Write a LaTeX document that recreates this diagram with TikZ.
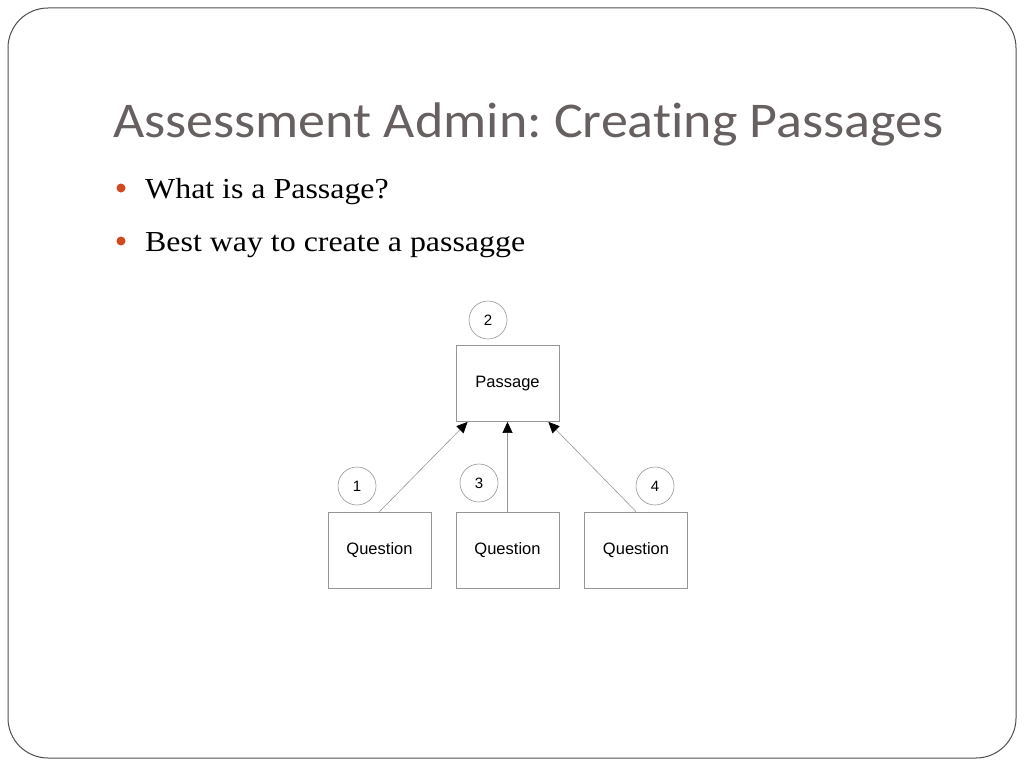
\documentclass[tikz,border=0pt]{standalone}
\usepackage{fontspec}
\setmainfont{Liberation Serif}[FakeStretch=1.1]
\newfontfamily\titlefont{Carlito}[Ligatures=NoCommon,FakeStretch=1.08]
\newfontfamily\boxfont{Liberation Sans}
\usetikzlibrary{shapes,arrows.meta,calc,positioning}
\definecolor{titlegray}{RGB}{102,96,96}
\definecolor{bulletred}{RGB}{209,73,31}
\definecolor{boxgray}{RGB}{150,150,150}
\frenchspacing

\begin{document}
\begin{tikzpicture}[x=1pt,y=-1pt,
    qbox/.style={rectangle,draw=boxgray,line width=0.8pt,minimum width=103pt,minimum height=76pt,inner sep=0pt,font=\boxfont\fontsize{16.5}{18}\selectfont},
    numcirc/.style={circle,draw=boxgray,line width=0.6pt,minimum size=38pt,inner sep=0pt,font=\boxfont\fontsize{15}{17}\selectfont},
    link/.style={draw=boxgray,line width=0.6pt,-{Triangle[length=11pt,width=10pt,fill=black,color=black]}}]
        %\draw [help lines] (0,0) grid (1024,768);
        \useasboundingbox (0,0) rectangle (1024,768);

        \draw[titlegray!80!black,line width=1pt,rounded corners=40pt] (8,8) rectangle (1016,758);

        \node [anchor=base west,inner sep=0pt,text=titlegray,font=\titlefont\fontsize{50}{56}\selectfont] (title) at (113,137) {Assessment Admin: Creating Passages};

        \fill[bulletred] (121,188) circle (4.5pt);
        \fill[bulletred] (121,241) circle (4.5pt);
        \node [anchor=base west,inner sep=0pt,font=\fontsize{29}{30}\selectfont] (b1) at (145,198) {What is a Passage?};
        \node [anchor=base west,inner sep=0pt,font=\fontsize{29}{30}\selectfont] (b2) at (145,251) {Best way to create a passagge};

        \node [qbox] (P) at (507.5,383.5) {Passage};
        \node [qbox] (Q1) at (379.5,550) {Question};
        \node [qbox] (Q2) at (507.5,550) {Question};
        \node [qbox] (Q3) at (636,550) {Question};

        \node [numcirc] (c2) at (488,320) {2};
        \node [numcirc] (c1) at (357,486) {1};
        \node [numcirc] (c3) at (479,483) {3};
        \node [numcirc] (c4) at (655,486) {4};

        \draw [link] (Q1.north) -- ($(P.south west)+(12,0)$);
        \draw [link] (Q2.north) -- (P.south);
        \draw [link] (Q3.north) -- ($(P.south east)+(-11,0)$);

    \end{tikzpicture}
\end{document}
